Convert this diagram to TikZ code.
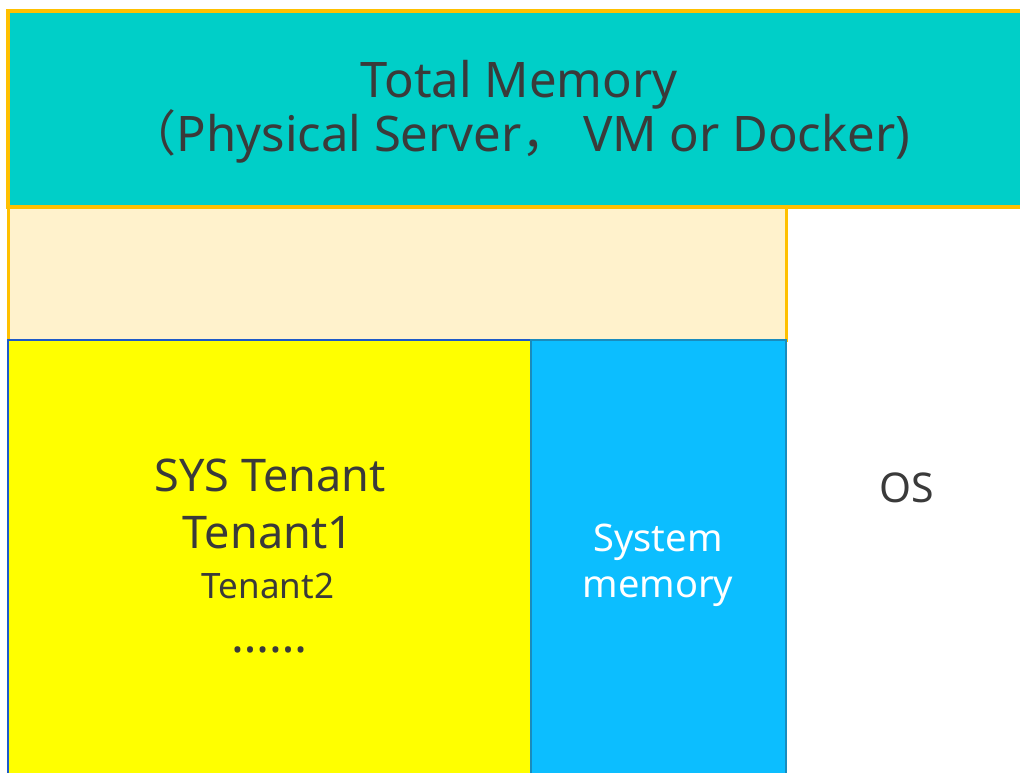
\documentclass[tikz,border=0pt]{standalone}
\usepackage{fontspec}
\setmainfont{Noto Sans}
\newfontfamily\cjk{Noto Sans CJK SC}
\usetikzlibrary{positioning}

\definecolor{teal}{RGB}{0,207,200}
\definecolor{amber}{RGB}{255,192,0}
\definecolor{cream}{RGB}{255,242,204}
\definecolor{lemon}{RGB}{255,255,0}
\definecolor{sky}{RGB}{12,190,255}
\definecolor{navy}{RGB}{30,90,200}
\definecolor{steel}{RGB}{25,140,190}
\definecolor{ink}{RGB}{58,58,58}

\begin{document}
\begin{tikzpicture}[
        x=1pt, y=-1pt,
        every node/.style={align=center, text=ink},
        block/.style={draw=amber, line width=4pt},
        tenantbox/.style={draw=navy, line width=2.5pt, fill=lemon},
        sysbox/.style={draw=steel, line width=2.5pt, fill=sky}
    ]
    \useasboundingbox (0,0) rectangle (1020,773);

    % Boxes
    \draw[block, fill=teal] (8,11) rectangle (1040,207);
    \draw[block, line width=3pt, fill=cream] (8,207) rectangle (786,340);
    \draw[tenantbox] (8,340) rectangle (531,790);
    \draw[sysbox] (531,340) rectangle (786,790);

    % Labels
    \node[font=\fontsize{49}{54}\selectfont] (total) at (519,112) {Total Memory\\
        {\cjk （}Physical Server{\cjk ，} VM or Docker)};
    \node[font=\fontsize{45}{45}\selectfont] (sys) at (270,475) {SYS Tenant};
    \node[font=\fontsize{45}{45}\selectfont] (t1) at (268,533) {Tenant1};
    \node[font=\fontsize{35}{35}\selectfont] (t2) at (268,586) {Tenant2};
    \node[font=\fontsize{48}{48}\selectfont] (dots) at (269,650) {……};
    \node[text=white, font=\fontsize{38}{46}\selectfont] (sysmem) at (658,565) {System\\memory};
    \node[font=\fontsize{41}{41}\selectfont] (os) at (907,488) {OS};

\end{tikzpicture}
\end{document}
